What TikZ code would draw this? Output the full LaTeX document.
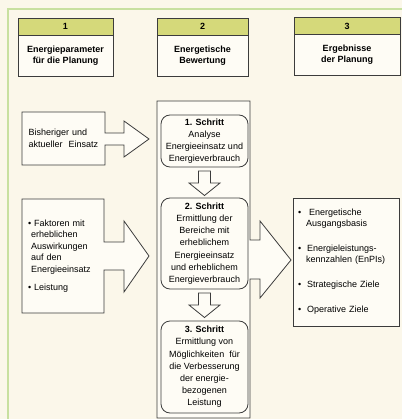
\documentclass[tikz,border=0pt]{standalone}
\usepackage{fontspec}
\setmainfont{Liberation Sans}
\usetikzlibrary{positioning,backgrounds}

\definecolor{bgcream}{RGB}{251,247,234}
\definecolor{boxfill}{RGB}{254,252,245}
\definecolor{bandgreen}{RGB}{213,217,122}
\definecolor{framegreen}{RGB}{200,224,160}
\definecolor{linegray}{RGB}{60,60,60}

\tikzset{
  every node/.style={outer sep=0pt},
  numband/.style={draw=linegray, fill=bandgreen, minimum height=17pt, inner sep=0pt, font=\bfseries\fontsize{9}{11}\selectfont},
  headbox/.style={draw=linegray, fill=boxfill, minimum height=41pt, inner sep=0pt, align=center, font=\bfseries\fontsize{9}{11}\selectfont},
  stepbox/.style={draw=linegray, fill=boxfill, rounded corners=9pt, minimum width=87pt, inner sep=0pt, align=center, font=\fontsize{9}{12.2}\selectfont},
  sidebox/.style={inner ysep=0pt, align=left, font=\fontsize{9}{11.5}\selectfont},
  outline/.style={draw=linegray, fill=boxfill, line width=0.8pt},
}

\begin{document}
\begin{tikzpicture}[x=1pt, y=-1pt, line width=0.8pt]
\useasboundingbox (0,0) rectangle (402,419);

% Column headers
\node[numband, minimum width=95pt] (num1) at (65.5,26.5) {1};
\node[headbox, minimum width=95pt, below=0pt of num1] (head1) {Energieparameter\\für die Planung};
\node[numband, minimum width=91pt] (num2) at (202.5,26.5) {2};
\node[headbox, minimum width=91pt, below=0pt of num2] (head2) {Energetische\\Bewertung};
\node[numband, minimum width=106pt] (num3) at (347,26) {3};
\node[headbox, minimum width=106pt, below=0pt of num3] (head3) {Ergebnisse\\der Planung};

% Inputs on the left
\node[sidebox, text width=70pt, inner xsep=6.5pt, minimum height=53pt, font=\fontsize{9}{12.5}\selectfont] (bish) at (63.5,138.5) {Bisheriger und\\aktueller\ \ Einsatz};
\node[sidebox, text width=70pt, inner xsep=6pt, minimum height=114pt] (fakt) at (63,256) {\textbullet\ Faktoren mit\\\hspace*{3pt}erheblichen\\\hspace*{3pt}Auswirkungen\\\hspace*{3pt}auf den\\\hspace*{3pt}Energieeinsatz\\[7pt]\textbullet\ Leistung};

% Middle column with the three steps
\node[minimum width=93pt, minimum height=317pt, inner sep=0pt] (bew) at (203.5,259.5) {};
\node[stepbox, minimum height=52pt] (step1) at (204.5,141) {\textbf{1. Schritt}\\Analyse\\Energieeinsatz und\\Energieverbrauch};
\node[stepbox, minimum height=91pt, below=31pt of step1] (step2) {\textbf{2. Schritt}\\Ermittlung der\\Bereiche mit\\erheblichem\\Energieeinsatz\\und erheblichem\\Energieverbrauch};
\node[stepbox, minimum height=92pt, below=32pt of step2] (step3) {\textbf{3. Schritt}\\Ermittlung von\\Möglichkeiten\hspace{5pt}für\\die Verbesserung\\der energie-\\bezogenen\\Leistung};

\foreach \s in {step1,step2}
  \draw[outline] (\s.south) ++(-6,4) -- ++(12,0) -- ++(0,12) -- ++(9.5,0) -- ++(-15.5,12.5) -- ++(-15.5,-12.5) -- ++(9.5,0) -- cycle;

% Results on the right
\node[sidebox, text width=96pt, inner xsep=5pt, minimum height=128pt, font=\fontsize{9}{11}\selectfont] (erg) at (346,262) {\textbullet\hspace{8pt}Energetische\\\hspace*{8pt}Ausgangsbasis\\[14pt]\textbullet\hspace{6pt}Energieleistungs-\\\hspace*{8pt}kennzahlen (EnPIs)\\[14pt]\textbullet\hspace{6pt}Strategische Ziele\\[14pt]\textbullet\hspace{6pt}Operative Ziele};

\begin{scope}[on background layer]
\fill[bgcream] (0,0) rectangle (402,419);
\draw[framegreen, line width=2pt] (8,419) -- (8,9) -- (402,9);

% Block arrows joined to their boxes
\draw[outline] (bish.north west) -- (bish.north east) -- ++(0,21) -- ++(19,0) -- ++(0,-12) -- ++(25,18) -- ++(-25,18) -- ++(0,-12) -- ++(-19,0) |- (bish.south west) -- cycle;
\draw[outline] (fakt.north west) -- (fakt.north east) -- ++(0,43) -- ++(20,0) -- ++(0,-21) -- ++(25,35) -- ++(-25,36) -- ++(0,-22) -- ++(-20,0) |- (fakt.south west) -- cycle;
\draw[outline] (bew.north west) -- (bew.north east) -- ++(0,139) -- ++(10,0) -- ++(0,-19) -- ++(31,39) -- ++(-31,38) -- ++(0,-19) -- ++(-10,0) |- (bew.south west) -- cycle;
\draw[outline] (erg.north west) rectangle (erg.south east);
\end{scope}

\end{tikzpicture}
\end{document}
